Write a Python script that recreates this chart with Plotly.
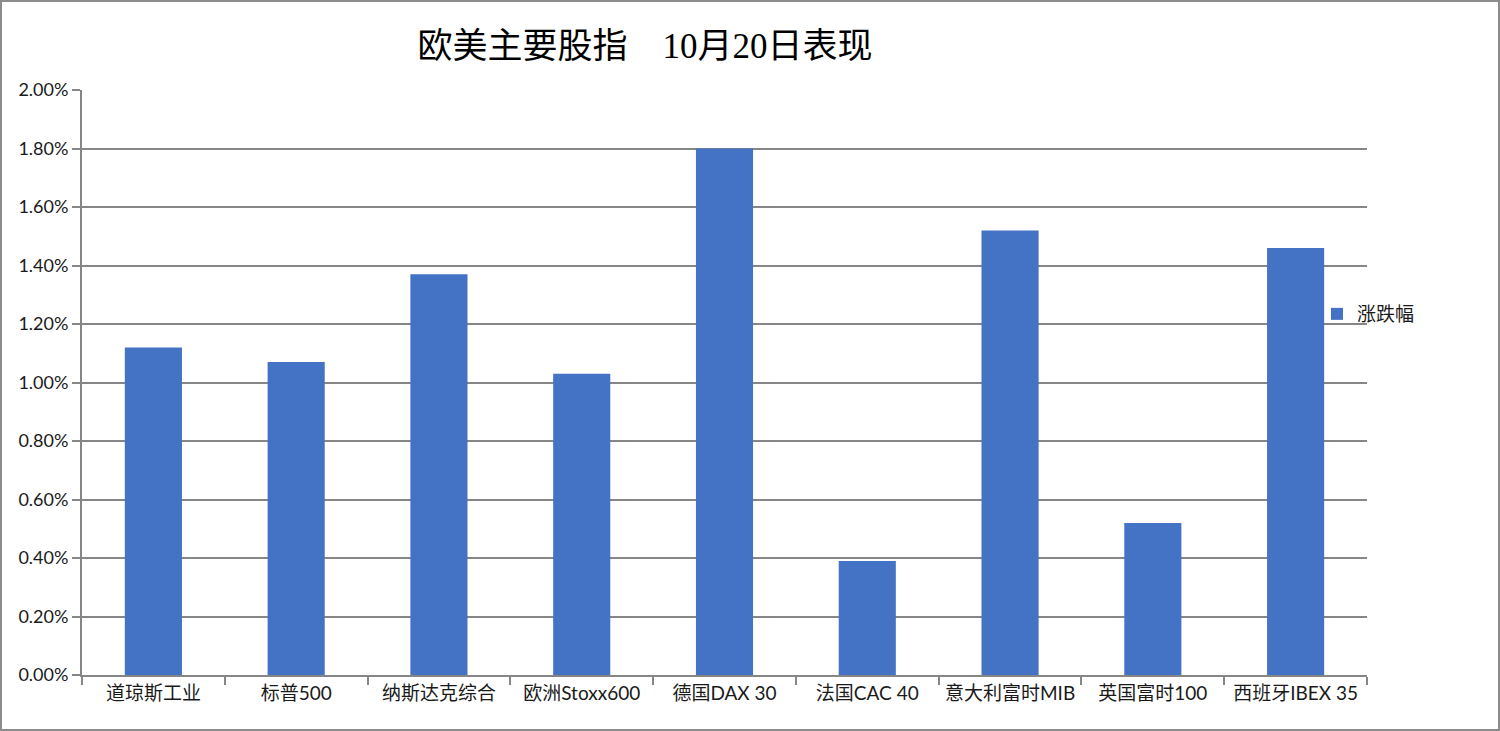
import plotly.graph_objects as go

categories = ["道琼斯工业", "标普500", "纳斯达克综合", "欧洲Stoxx600", "德国DAX 30",
              "法国CAC 40", "意大利富时MIB", "英国富时100", "西班牙IBEX 35"]
values = [0.0112, 0.0107, 0.0137, 0.0103, 0.0180, 0.0039, 0.0152, 0.0052, 0.0146]
series_name = "涨跌幅"
title_text = "欧美主要股指\u00a0\u00a0\u00a0\u00a010月20日表现"

W, H = 1500, 731
L, R, T, B = 82, 1367, 90, 675
pw, ph = R - L, B - T

def px_x(x):
    return (x - L) / pw

def px_y(y):
    return (B - y) / ph

grid = "#868686"

fig = go.Figure()
fig.add_trace(go.Bar(x=categories, y=values, name=series_name,
                     marker=dict(color="#4472C4", line=dict(width=0))))

fig.update_layout(
    width=W, height=H,
    margin=dict(l=L, r=W - R, t=T, b=H - B, autoexpand=False),
    paper_bgcolor="white", plot_bgcolor="white",
    bargap=0.6,
    showlegend=True,
    title=dict(text=title_text, x=645 / W, xanchor="center", xref="container",
               y=1 - 46 / H, yanchor="middle", yref="container",
               font=dict(family="'Liberation Serif', 'Noto Sans CJK SC'", size=35, color="black")),
    legend=dict(x=px_x(1317), xanchor="left", y=px_y(314), yanchor="middle",
                font=dict(family="Lato, 'Noto Sans CJK SC'", size=19, color="#1a1a1a"),
                bgcolor="rgba(0,0,0,0)", itemwidth=30),
    xaxis=dict(type="category", showgrid=False, showline=True, linecolor=grid, linewidth=2,
               ticks="outside", tickson="boundaries", ticklen=8, tickwidth=2, tickcolor=grid,
               tickfont=dict(family="Lato, 'Noto Sans CJK SC'", size=19, color="#1a1a1a"),
               fixedrange=True),
    yaxis=dict(range=[0, 0.02], dtick=0.002, tick0=0, tickformat=".2%",
               showgrid=True, gridcolor=grid, gridwidth=2,
               showline=True, linecolor=grid, linewidth=2,
               ticks="outside", ticklen=8, tickwidth=2, tickcolor=grid,
               tickfont=dict(family="Lato, 'Noto Sans CJK SC'", size=18, color="#1a1a1a"),
               zeroline=False, fixedrange=True),
    shapes=[dict(type="rect", xref="paper", yref="paper",
                 x0=px_x(1), x1=px_x(W - 1), y0=px_y(H - 1), y1=px_y(1),
                 line=dict(color="#8c8c8c", width=2), fillcolor="rgba(0,0,0,0)", layer="above")],
)

fig.write_html("out.html", config={"displayModeBar": False},
               post_script="document.body.style.margin='0';document.body.style.overflow='hidden';")
